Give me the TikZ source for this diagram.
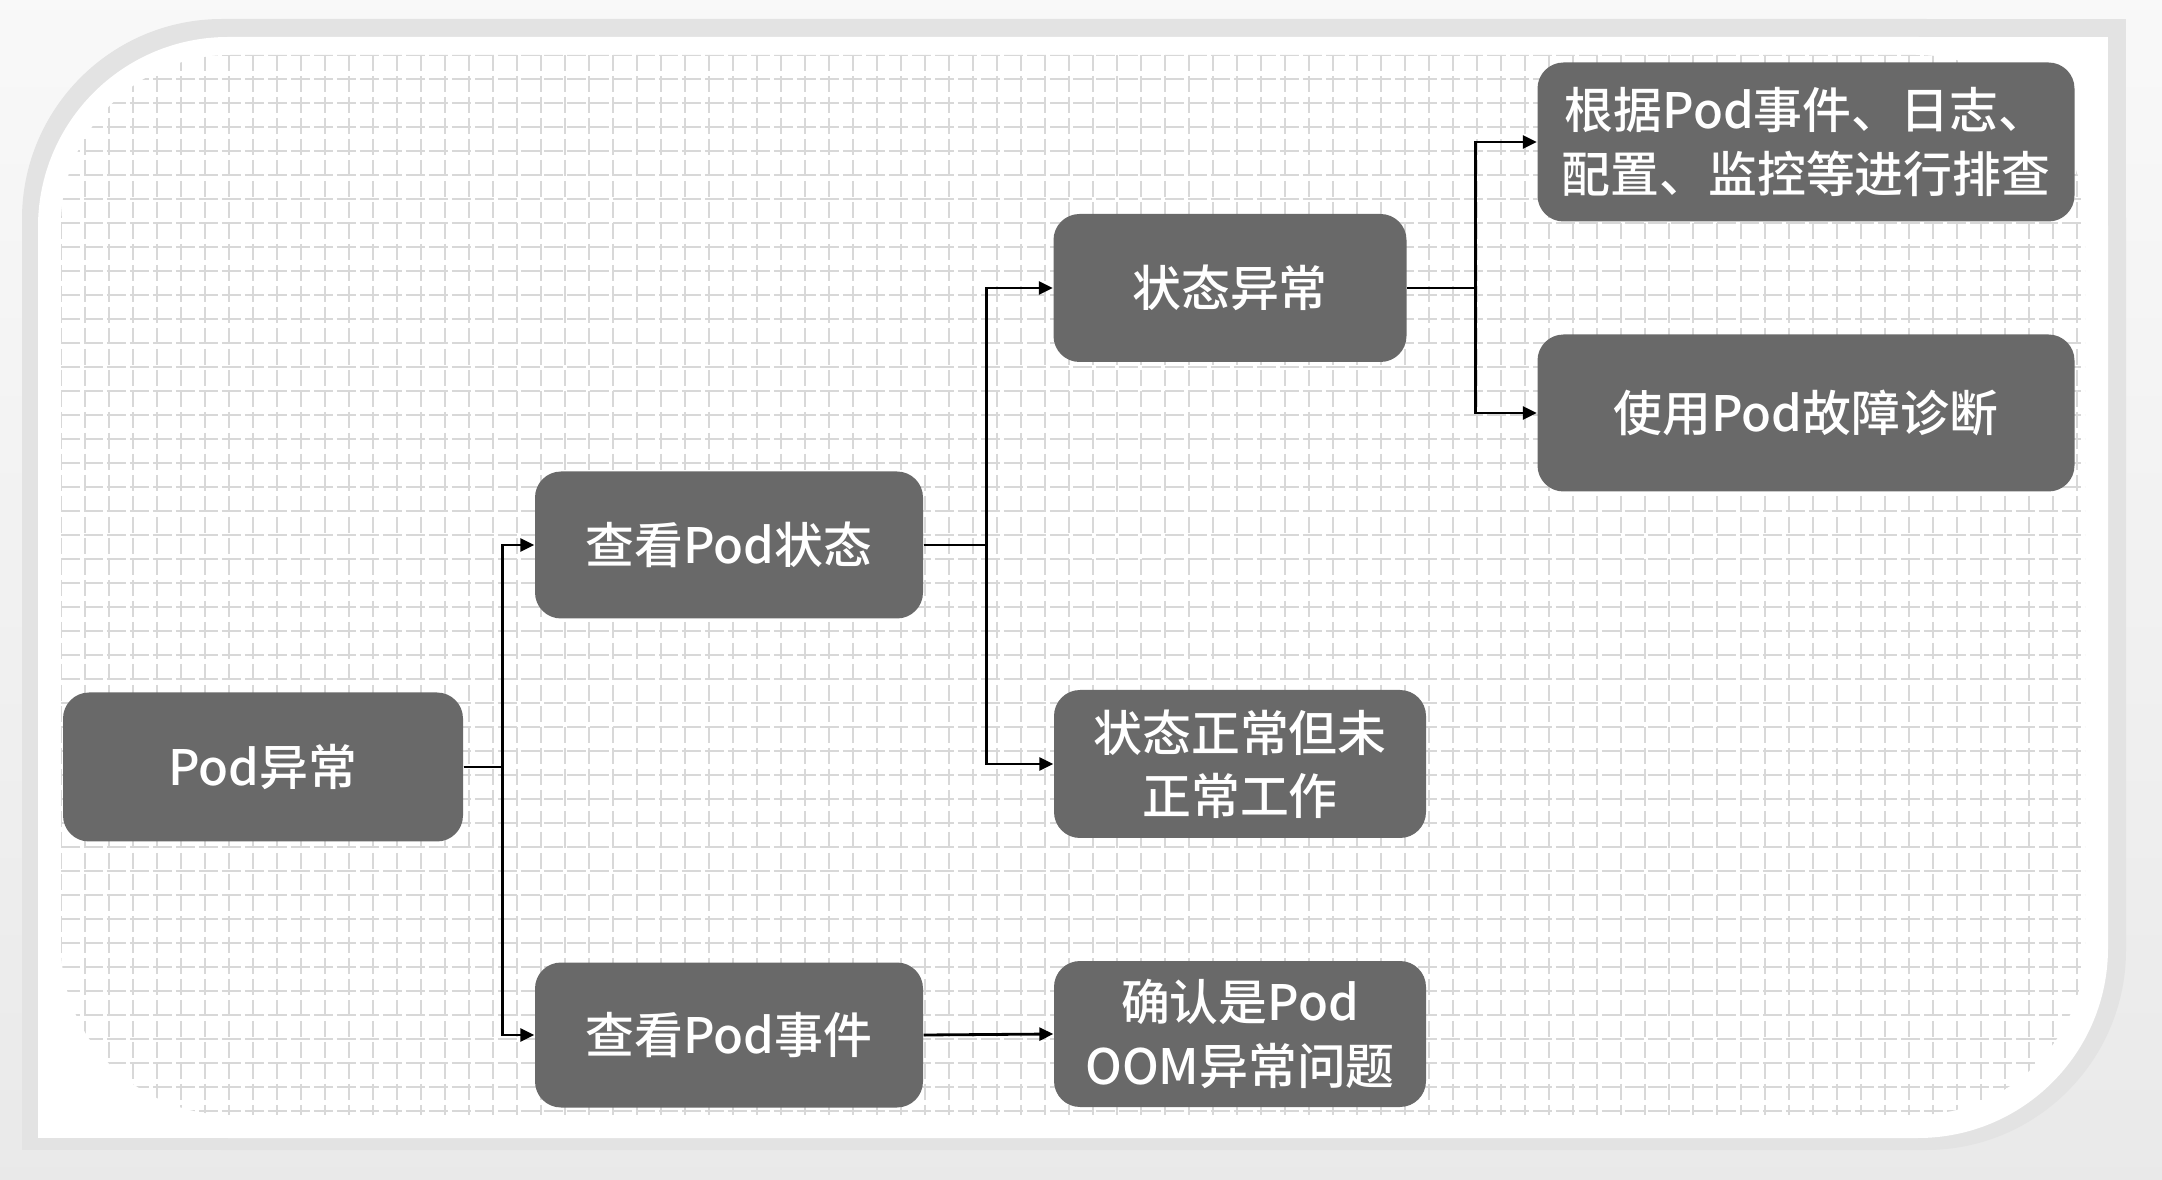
\documentclass[tikz,border=0pt]{standalone}
\usepackage{fontspec}
\setmainfont{Noto Sans CJK SC}
\newfontfamily\boxfont{Noto Sans CJK SC Medium}
\usetikzlibrary{arrows.meta}
\definecolor{boxgray}{HTML}{696969}
\definecolor{weave}{HTML}{D8D8D8}
\tikzset{box/.style={rounded corners=2.6mm, fill=boxgray, text=white, align=center, inner sep=0pt,
                     font=\boxfont\fontsize{13.9}{18}\selectfont},
         link/.style={-{Triangle[length=1.4mm,width=1.3mm]}, line width=0.28mm, black}}

\begin{document}
\begin{tikzpicture}[x=0.1mm,y=-0.1mm]
   \useasboundingbox (0,0) rectangle (2162,1180);
   \shade[top color=gray!5, bottom color=gray!17] (0,0) rectangle (2162,1180);
   \fill[gray!22, rounded corners=20mm] (22,19) rectangle (2126,1150);
   \fill[gray!22] (1000,19) rectangle (2126,600);
   \fill[gray!22] (22,600) rectangle (1000,1150);
   \fill[white, rounded corners=19mm] (38,37) rectangle (2108,1138);
   \fill[white] (1000,37) rectangle (2108,600);
   \fill[white] (38,600) rectangle (1000,1138);
   \begin{scope}
    \clip[rounded corners=17mm] (61,55) rectangle (2085,1115);
    \foreach \x in {61,85,...,2085}
      \draw[weave, line width=0.15mm, dash pattern=on 1.6mm off 0.5mm] (\x,55) -- (\x,1115);
    \foreach \y in {55,79,...,1115}
      \draw[weave, line width=0.15mm, dash pattern=on 1.9mm off 0.4mm] (61,\y) -- (2085,\y);
   \end{scope}
   \node[box, minimum width=40mm, minimum height=14.9mm] (pod) at (263,767) {Pod异常};
   \node[box, minimum width=38.8mm, minimum height=14.7mm] (st) at (729,545) {查看Pod状态};
   \node[box, minimum width=38.8mm, minimum height=14.5mm] (ev) at (729,1035) {查看Pod事件};
   \node[box, minimum width=35.3mm, minimum height=14.8mm] (abn) at (1230,288) {状态异常};
   \node[box, minimum width=37.2mm, minimum height=14.8mm] (nrm) at (1240,764) {状态正常但未\\正常工作};
   \node[box, minimum width=37.2mm, minimum height=14.6mm] (oom) at (1240,1034) {确认是Pod\\OOM异常问题};
   \node[box, minimum width=53.7mm, minimum height=15.9mm] (chk) at (1806,142) {根据Pod事件、日志、\\配置、监控等进行排查};
   \node[box, minimum width=53.7mm, minimum height=15.7mm] (diag) at (1806,413) {使用Pod故障诊断};
   \draw[link] (pod.east) -- ++(39,0) |- (st.west);
   \draw[link] (pod.east) -- ++(39,0) |- (ev.west);
   \draw[link] (st.east) -- ++(63,0) |- (abn.west);
   \draw[link] (st.east) -- ++(63,0) |- (nrm.west);
   \draw[link] (ev.east) -- (oom.west);
   \draw[link] (abn.east) -- ++(68,0) |- (chk.west);
   \draw[link] (abn.east) -- ++(68,0) |- (diag.west);
\end{tikzpicture}
\end{document}
